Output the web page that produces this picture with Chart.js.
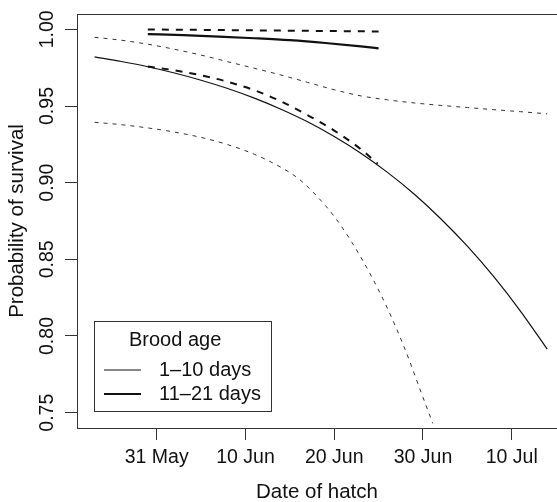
<!DOCTYPE html>
<html>
<head>
<meta charset="utf-8">
<script src="https://cdn.jsdelivr.net/npm/chart.js@4.4.0/dist/chart.umd.min.js"></script>
<style>
  body { margin: 0; background: #fff; }
  #wrap { width: 557px; height: 502px; }
</style>
</head>
<body>
<div id="wrap"><canvas id="survivalChart"></canvas></div>
<script>
// x values are days after 31 May
const tickDays = [0, 10, 20, 30, 40];
const tickLabels = ['31 May', '10 Jun', '20 Jun', '30 Jun', '10 Jul'];
const yTicks = [0.75, 0.80, 0.85, 0.90, 0.95, 1.00];

// Brood age 1-10 days: fitted curve
const youngDays = [-7, -4, -1, 2, 5, 8, 11, 14, 17, 20, 23, 26, 29, 32, 35, 38, 41, 44];
const youngFit = [0.9820, 0.9790, 0.9756, 0.9715, 0.9668, 0.9614, 0.9551, 0.9479, 0.9397,
                  0.9301, 0.9192, 0.9067, 0.8926, 0.8765, 0.8586, 0.8385, 0.8161, 0.7914];
// upper and lower confidence limits
const youngUpper = [0.9948, 0.9929, 0.9903, 0.9870, 0.9832, 0.9789, 0.9746, 0.9702, 0.9654,
                    0.9606, 0.9566, 0.9540, 0.9520, 0.9504, 0.9490, 0.9476, 0.9463, 0.9449];
const lowerDays = [-7, -4, -1, 2, 5, 8, 11, 14, 16, 18, 20, 22, 24, 26, 28, 30, 31.1];
const youngLower = [0.9394, 0.9378, 0.9357, 0.9330, 0.9295, 0.9248, 0.9185, 0.9100, 0.9025,
                    0.8915, 0.8780, 0.8610, 0.8410, 0.8180, 0.7910, 0.7600, 0.7430];
// dashed curve over the observed range
const youngObsDays = [-1, 2, 5, 8, 11, 14, 17, 20, 23, 24.9];
const youngObs = [0.9757, 0.9733, 0.9700, 0.9658, 0.9603, 0.9530, 0.9440, 0.9340, 0.9218, 0.9123];

// Brood age 11-21 days
const oldDays = [-1, 3, 7, 11, 15, 19, 23, 25];
const oldFit = [0.9969, 0.9962, 0.9953, 0.9942, 0.9929, 0.9911, 0.9889, 0.9876];
const oldObsDays = [-1, 12, 25];
const oldObs = [0.9999, 0.9993, 0.9986];

const legendTitle = 'Brood age';
const legendLabels = ['1\u201310 days', '11\u201321 days'];

const FONT = '"Liberation Sans", Arial, Helvetica, sans-serif';
const INK = '#111';

function pts(xs, ys) {
    return xs.map((x, i) => ({ x: x, y: ys[i] }));
}

function line(label, xs, ys, width, dash, color) {
    return {
        label: label,
        data: pts(xs, ys),
        borderColor: color || INK,
        borderWidth: width,
        borderDash: dash || [],
        pointRadius: 0,
        fill: false,
        cubicInterpolationMode: 'monotone'
    };
}

// frame top edge + legend box drawn on top
const framePlugin = {
    id: 'frame',
    afterDraw(chart) {
        const { ctx, chartArea: a } = chart;
        ctx.save();
        ctx.strokeStyle = '#333';
        ctx.lineWidth = 1;
        ctx.beginPath();
        ctx.moveTo(a.left, a.top + 0.5);
        ctx.lineTo(a.right, a.top + 0.5);
        ctx.stroke();

        const x0 = Math.round(a.left + 17) + 0.5;
        const y0 = Math.round(a.bottom - 107) + 0.5;
        ctx.fillStyle = '#fff';
        ctx.fillRect(x0, y0, 177, 90);
        ctx.strokeRect(x0, y0, 177, 90);

        ctx.fillStyle = INK;
        ctx.font = '20px ' + FONT;
        ctx.textBaseline = 'middle';
        ctx.textAlign = 'left';
        ctx.fillText(legendTitle, a.left + 52, a.bottom - 88);

        const widths = [1.2, 2.2];
        const rows = [a.bottom - 58, a.bottom - 34];
        legendLabels.forEach((txt, i) => {
            ctx.strokeStyle = INK;
            ctx.lineWidth = widths[i];
            ctx.beginPath();
            ctx.moveTo(a.left + 27, rows[i]);
            ctx.lineTo(a.left + 64, rows[i]);
            ctx.stroke();
            ctx.fillText(txt, a.left + 82, rows[i]);
        });
        ctx.restore();
    }
};

new Chart(document.getElementById('survivalChart'), {
    type: 'line',
    data: {
        datasets: [
            line('1-10 days upper', youngDays, youngUpper, 1, [4, 5], '#333'),
            line('1-10 days lower', lowerDays, youngLower, 1, [4, 5], '#333'),
            line('1-10 days', youngDays, youngFit, 1.2),
            line('1-10 days observed', youngObsDays, youngObs, 2, [7, 7]),
            line('11-21 days', oldDays, oldFit, 2.2),
            line('11-21 days observed', oldObsDays, oldObs, 2, [7, 7])
        ]
    },
    options: {
        responsive: true,
        maintainAspectRatio: false,
        animation: false,
        layout: { padding: { top: 14, left: 0, right: 0, bottom: 0 } },
        plugins: {
            legend: { display: false },
            tooltip: { enabled: false }
        },
        scales: {
            x: {
                type: 'linear',
                min: -8.98,
                max: 45.1,
                afterBuildTicks: s => { s.ticks = tickDays.map(v => ({ value: v })); },
                afterFit: s => { s.height = 74; },
                ticks: {
                    autoSkip: false,
                    maxRotation: 0,
                    padding: 6,
                    color: INK,
                    font: { family: FONT, size: 19.5 },
                    callback: v => tickLabels[tickDays.indexOf(v)]
                },
                grid: { drawOnChartArea: false, tickLength: 12, color: '#333' },
                border: { display: true, color: '#333', width: 1 },
                title: {
                    display: true,
                    text: 'Date of hatch',
                    color: INK,
                    font: { family: FONT, size: 20.5 },
                    padding: { top: 0, bottom: -3 }
                }
            },
            y: {
                min: 0.74,
                max: 1.01,
                afterBuildTicks: s => { s.ticks = yTicks.map(v => ({ value: v })); },
                afterFit: s => { s.width = 77; },
                ticks: {
                    autoSkip: false,
                    minRotation: 90,
                    maxRotation: 90,
                    crossAlign: 'center',
                    padding: -2,
                    color: INK,
                    font: { family: FONT, size: 19.5 },
                    callback: v => v.toFixed(2)
                },
                grid: { drawOnChartArea: false, tickLength: 12, color: '#333' },
                border: { display: true, color: '#333', width: 1 },
                title: {
                    display: true,
                    text: 'Probability of survival',
                    color: INK,
                    font: { family: FONT, size: 20.5 },
                    padding: { top: 5, bottom: 0 }
                }
            }
        }
    },
    plugins: [framePlugin]
});
</script>
</body>
</html>
